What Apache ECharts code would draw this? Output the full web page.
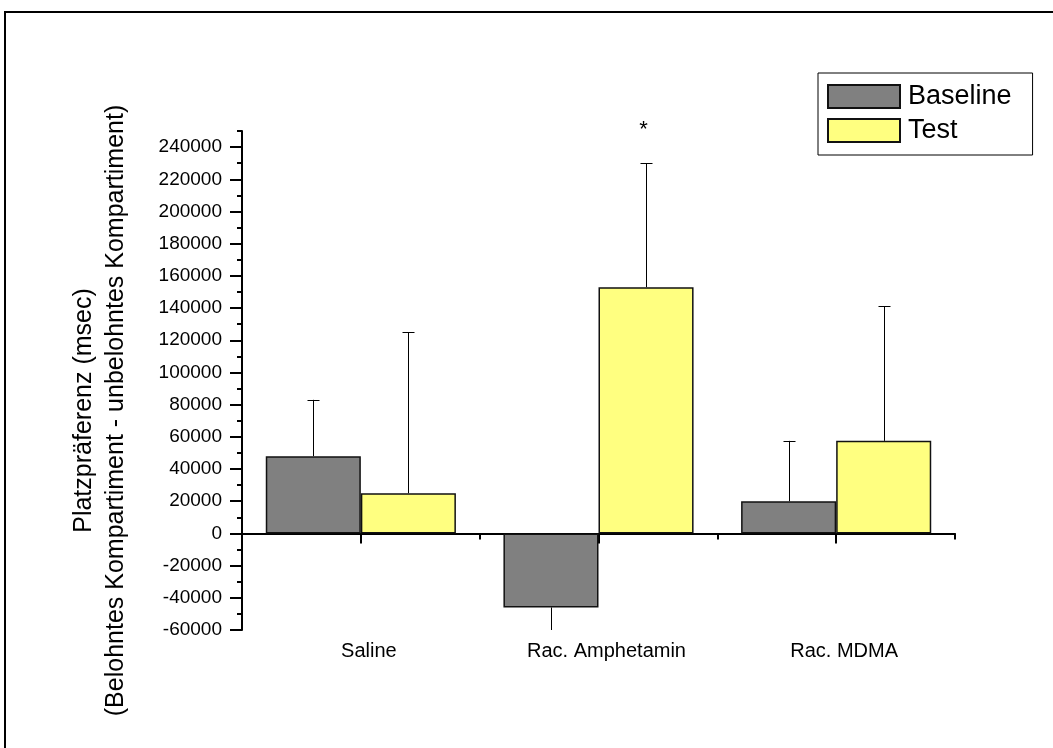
<!DOCTYPE html>
<html>
<head>
<meta charset="utf-8">
<script src="https://cdn.jsdelivr.net/npm/echarts@6/dist/echarts.min.js"></script>
<style>
  html, body { margin: 0; padding: 0; background: #fff; }
  #chart { width: 1053px; height: 748px; }
</style>
</head>
<body>
<div id="chart"></div>
<script>
// ---- data ----
const categories = ['Saline', 'Rac. Amphetamin', 'Rac. MDMA'];
const baselineValues = [48000, -46000, 20000];
const baselineSD = [35000, 30000, 37500];
const testValues = [25000, 153000, 57500];
const testSD = [100000, 77000, 83500];
const testMarks = ['', '*', ''];
const yMajorTicks = [-60000, -40000, -20000, 0, 20000, 40000, 60000, 80000, 100000, 120000, 140000, 160000, 180000, 200000, 220000, 240000];
const yMinorTicks = [-50000, -30000, -10000, 10000, 30000, 50000, 70000, 90000, 110000, 130000, 150000, 170000, 190000, 210000, 230000, 250000];
const yTitle = 'Platzpräferenz (msec)\n(Belohntes Kompartiment - unbelohntes Kompartiment)';

const FONT = 'Liberation Sans, Arial, sans-serif';

function errData(values, sds) {
  return values.map((v, i) => [i, v, v + (v >= 0 ? sds[i] : -sds[i])]);
}

function errRenderer(offsetSign, marks) {
  return function (params, api) {
    const cat = api.value(0), v = api.value(1), end = api.value(2);
    const base = api.coord([cat, v]);
    const tip = api.coord([cat, end]);
    const band = api.size([1, 0])[0];
    const x = Math.round(base[0] + offsetSign * band * 0.2) + 0.5;
    const cs = params.coordSys;
    const ty = Math.min(Math.max(tip[1], cs.y), cs.y + cs.height);
    const clipped = ty !== tip[1];
    const children = [{
      type: 'line',
      shape: { x1: x, y1: base[1], x2: x, y2: ty },
      style: { stroke: '#000', lineWidth: 1 }
    }];
    if (!clipped) {
      children.push({
        type: 'line',
        shape: { x1: x - 6, y1: Math.round(ty) + 0.5, x2: x + 6, y2: Math.round(ty) + 0.5 },
        style: { stroke: '#000', lineWidth: 1 }
      });
    }
    const mark = marks ? marks[params.dataIndex] : '';
    if (mark) {
      children.push({
        type: 'text',
        style: {
          text: mark, x: x - 3, y: ty - 33, fill: '#000',
          fontSize: 22, fontFamily: FONT, align: 'center', verticalAlign: 'middle'
        }
      });
    }
    return { type: 'group', children: children };
  };
}

const chart = echarts.init(document.getElementById('chart'), null, { renderer: 'canvas' });

const option = {
  animation: false,
  backgroundColor: '#fff',
  textStyle: { fontFamily: FONT },
  graphic: [{
    type: 'rect', silent: true, z: -10,
    shape: { x: 5, y: 12, width: 1300, height: 1000 },
    style: { fill: 'none', stroke: '#000', lineWidth: 2 }
  }],
  grid: { left: 242, top: 131, right: 98, bottom: 118, containLabel: false },
  legend: {
    data: ['Baseline', 'Test'],
    orient: 'vertical',
    left: 818, top: 73,
    padding: [10, 21, 11, 9],
    itemWidth: 72, itemHeight: 23, itemGap: 7,
    icon: 'rect',
    borderColor: '#000', borderWidth: 1,
    textStyle: { fontSize: 27, lineHeight: 26, color: '#000', fontFamily: FONT, padding: [0, 0, 0, 3] }
  },
  xAxis: [
    {
      type: 'category', data: categories, position: 'bottom',
      axisLine: { onZero: true, lineStyle: { color: '#000', width: 2 } },
      axisTick: { show: true, length: 6, lineStyle: { color: '#000', width: 2 } },
      axisLabel: { show: false },
      splitLine: { show: false }
    },
    {
      type: 'category', data: categories, position: 'bottom',
      axisLine: { show: false, onZero: true },
      axisTick: { show: true, alignWithLabel: true, length: 10, lineStyle: { color: '#000', width: 2 } },
      axisLabel: { show: false },
      splitLine: { show: false }
    },
    {
      type: 'category', data: categories, position: 'bottom',
      axisLine: { show: false, onZero: false },
      axisTick: { show: false },
      axisLabel: { show: true, margin: 11, fontSize: 20, color: '#000', fontFamily: FONT, padding: [0, 0, 0, 16] },
      splitLine: { show: false }
    }
  ],
  yAxis: [
    {
      type: 'value', position: 'left', min: -60000, max: 250000, interval: 20000,
      name: yTitle, nameLocation: 'middle', nameRotate: 90, nameGap: 110,
      nameTextStyle: { fontSize: 25, lineHeight: 32, color: '#000', fontFamily: FONT, padding: [0, 60, 0, 0] },
      axisLine: { show: true, lineStyle: { color: '#000', width: 2 } },
      axisTick: { show: true, length: 12, customValues: yMajorTicks, lineStyle: { color: '#000', width: 2 } },
      axisLabel: {
        show: true, margin: 20, fontSize: 19, color: '#000', fontFamily: FONT,
        customValues: yMajorTicks, formatter: function (v) { return String(v); }
      },
      splitLine: { show: false }
    },
    {
      type: 'value', position: 'left', min: -60000, max: 250000, interval: 10000,
      axisLine: { show: false },
      axisTick: { show: true, length: 5, customValues: yMinorTicks, lineStyle: { color: '#000', width: 2 } },
      axisLabel: { show: false },
      splitLine: { show: false }
    }
  ],
  series: [
    {
      name: 'Baseline', type: 'bar', xAxisIndex: 0, yAxisIndex: 0,
      data: baselineValues, barGap: '0%', barCategoryGap: '20%',
      itemStyle: { color: '#808080', borderColor: '#111', borderWidth: 1.5 }
    },
    {
      name: 'Test', type: 'bar', xAxisIndex: 0, yAxisIndex: 0,
      data: testValues, barGap: '0%', barCategoryGap: '20%',
      itemStyle: { color: '#FFFF80', borderColor: '#111', borderWidth: 1.5 }
    },
    {
      name: 'Baseline SD', type: 'custom', xAxisIndex: 0, yAxisIndex: 0,
      renderItem: errRenderer(-1, null), data: errData(baselineValues, baselineSD),
      clip: false, z: 5, silent: true
    },
    {
      name: 'Test SD', type: 'custom', xAxisIndex: 0, yAxisIndex: 0,
      renderItem: errRenderer(1, testMarks), data: errData(testValues, testSD),
      clip: false, z: 5, silent: true
    }
  ]
};

chart.setOption(option);
</script>
</body>
</html>
